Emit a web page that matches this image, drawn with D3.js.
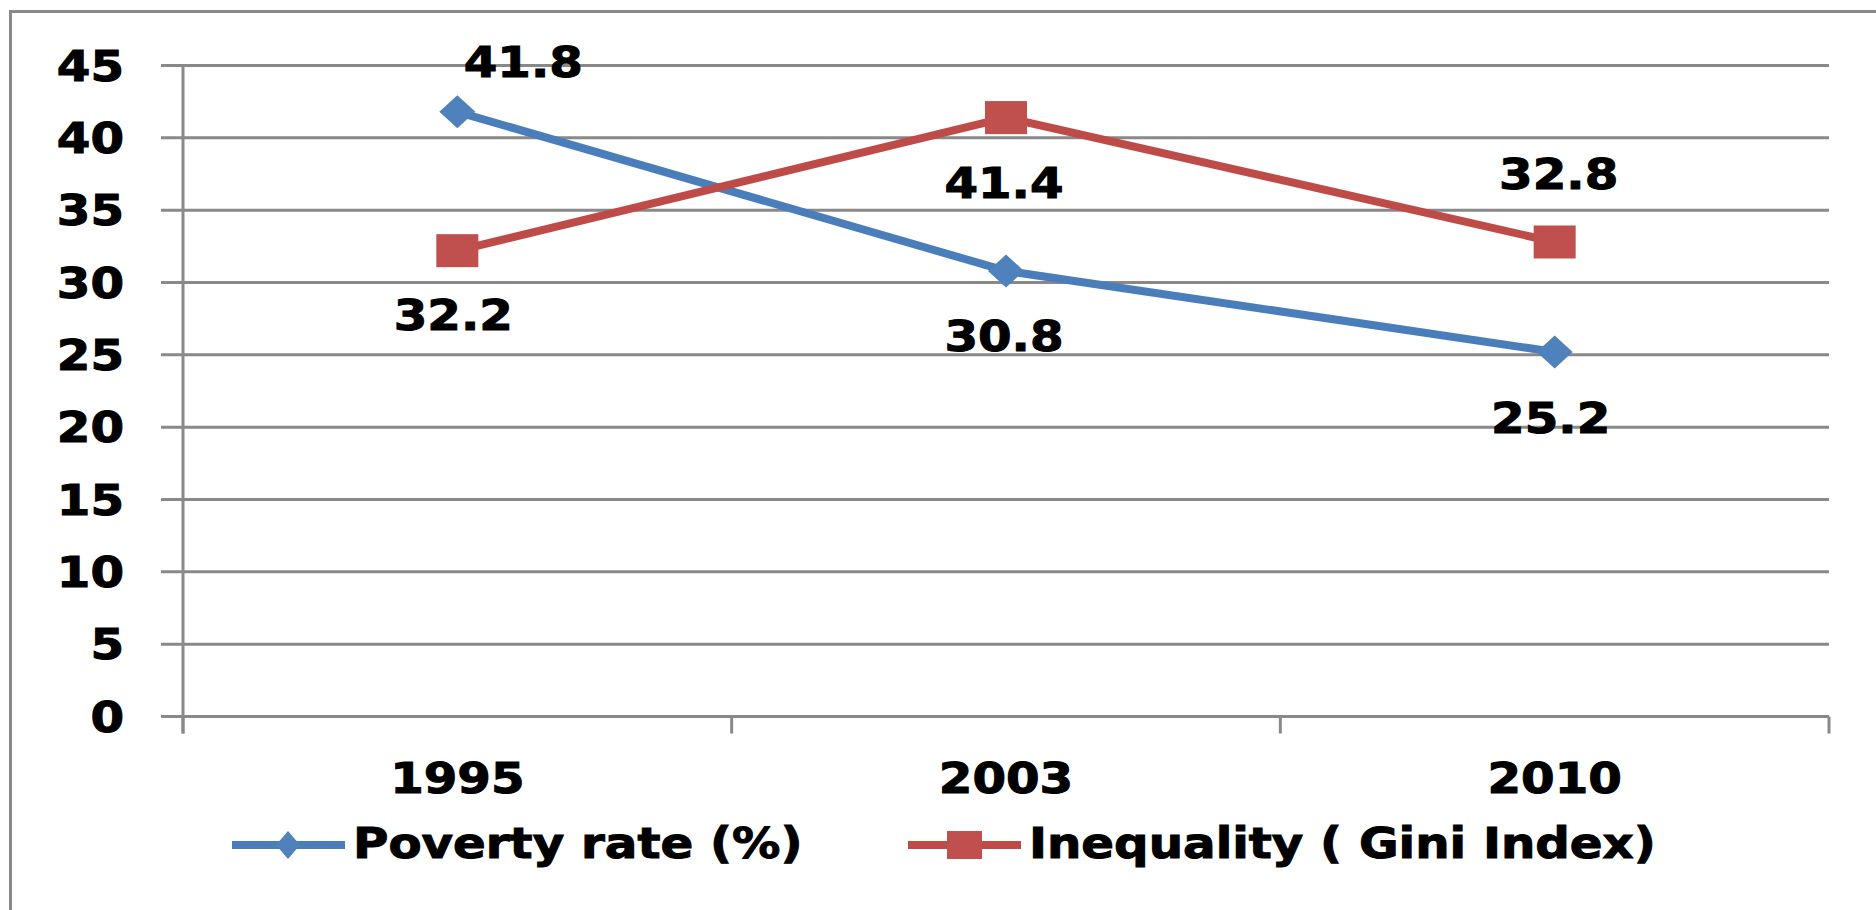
<!DOCTYPE html>
<html>
<head>
<meta charset="utf-8">
<script src="https://cdn.jsdelivr.net/npm/d3@7"></script>
<style>
  html, body { margin: 0; padding: 0; background: #ffffff; }
  svg { display: block; }
  text { font-family: "DejaVu Sans", sans-serif; font-weight: bold; fill: #000; stroke: #000; stroke-width: 1; }
</style>
</head>
<body>
<svg id="chart" width="1876" height="910"></svg>
<script>
// ---- data ----
const categories = ["1995", "2003", "2010"];
const povertyRate = [41.8, 30.8, 25.2];
const giniIndex = [32.2, 41.4, 32.8];
const seriesNames = ["Poverty rate (%)", "Inequality ( Gini Index)"];
const yTickValues = [0, 5, 10, 15, 20, 25, 30, 35, 40, 45];

// ---- layout / style (not data) ----
const W = 1876, H = 910;
const plot = { left: 183, right: 1829, top: 65.5, bottom: 716.5 };
const gridColor = "#898989";
const blue = "#4A7EBB", blueFill = "#4F81BD";
const red = "#BE4B48", redFill = "#C0504D";
const fontSize = 42;
const sx = 1.15; // horizontal text stretch seen in the reference
// label nudges (pixels) relative to point: [dx, dy(baseline)]
const povertyLabelPos = [[66, -35], [-2, 80], [-4, 81]];
const giniLabelPos = [[-4, 79], [-2, 80], [4, -53]];

const svg = d3.select("#chart");
svg.append("rect").attr("width", W).attr("height", H).attr("fill", "#fff");

// outer border (cropped on right/bottom)
svg.append("rect")
  .attr("x", 10.5).attr("y", 11.5)
  .attr("width", W + 20).attr("height", H + 20)
  .attr("fill", "none").attr("stroke", gridColor).attr("stroke-width", 3);

const x = d3.scaleBand().domain(categories).range([plot.left, plot.right]).padding(0);
const y = d3.scaleLinear().domain([0, 45]).range([plot.bottom, plot.top]);
const cx = c => x(c) + x.bandwidth() / 2;

function stretchedText(g, tx, ty, str, anchor, size) {
  return g.append("text")
    .attr("transform", `translate(${tx},${ty}) scale(${sx},1)`)
    .attr("text-anchor", anchor)
    .style("font-size", (size || fontSize) + "px")
    .text(str);
}

// gridlines (with left tick extension)
const grid = svg.append("g");
grid.selectAll("line").data(yTickValues).join("line")
  .attr("x1", plot.left - 22).attr("x2", plot.right)
  .attr("y1", d => y(d)).attr("y2", d => y(d))
  .attr("stroke", gridColor).attr("stroke-width", 3);

// y axis line
svg.append("line")
  .attr("x1", plot.left).attr("x2", plot.left)
  .attr("y1", y(45) - 1).attr("y2", plot.bottom + 17)
  .attr("stroke", gridColor).attr("stroke-width", 3);

// x ticks at category boundaries
const boundaries = categories.map(c => x(c)).concat([plot.right]);
svg.append("g").selectAll("line").data(boundaries).join("line")
  .attr("x1", d => d).attr("x2", d => d)
  .attr("y1", plot.bottom).attr("y2", plot.bottom + 17)
  .attr("stroke", gridColor).attr("stroke-width", 3);

// y labels
const yl = svg.append("g");
yTickValues.forEach(v => stretchedText(yl, 124, y(v) + 15, String(v), "end"));

// x labels
const xl = svg.append("g");
categories.forEach(c => stretchedText(xl, cx(c), 793, c, "middle"));

// lines
const line = d3.line().x((d, i) => cx(categories[i])).y(d => y(d));
svg.append("path").datum(povertyRate).attr("d", line)
  .attr("fill", "none").attr("stroke", blue).attr("stroke-width", 8).attr("stroke-linejoin", "round");
svg.append("path").datum(giniIndex).attr("d", line)
  .attr("fill", "none").attr("stroke", red).attr("stroke-width", 8).attr("stroke-linejoin", "round");

function diamond(g, px, py, w, h, fill) {
  g.append("path")
    .attr("d", `M${px},${py - h / 2} L${px + w / 2},${py} L${px},${py + h / 2} L${px - w / 2},${py} Z`)
    .attr("fill", fill);
}
function square(g, px, py, w, h, fill) {
  g.append("rect").attr("x", px - w / 2).attr("y", py - h / 2)
    .attr("width", w).attr("height", h).attr("fill", fill);
}

const marks = svg.append("g");
povertyRate.forEach((v, i) => diamond(marks, cx(categories[i]), y(v), 36, 33, blueFill));
giniIndex.forEach((v, i) => square(marks, cx(categories[i]), y(v), 42, 33, redFill));

// data labels
const labels = svg.append("g");
povertyRate.forEach((v, i) => stretchedText(labels, cx(categories[i]) + povertyLabelPos[i][0], y(v) + povertyLabelPos[i][1], v.toFixed(1), "middle"));
giniIndex.forEach((v, i) => stretchedText(labels, cx(categories[i]) + giniLabelPos[i][0], y(v) + giniLabelPos[i][1], v.toFixed(1), "middle"));

// legend
const lg = svg.append("g");
const legendY = 845;
lg.append("line").attr("x1", 232).attr("x2", 345).attr("y1", legendY).attr("y2", legendY)
  .attr("stroke", blue).attr("stroke-width", 8);
diamond(lg, 288, legendY, 24, 28, blueFill);
stretchedText(lg, 353, 858, seriesNames[0], "start");
lg.append("line").attr("x1", 908).attr("x2", 1021).attr("y1", legendY).attr("y2", legendY)
  .attr("stroke", red).attr("stroke-width", 8);
square(lg, 964.5, legendY, 35, 28, redFill);
stretchedText(lg, 1029, 858, seriesNames[1], "start");
</script>
</body>
</html>
